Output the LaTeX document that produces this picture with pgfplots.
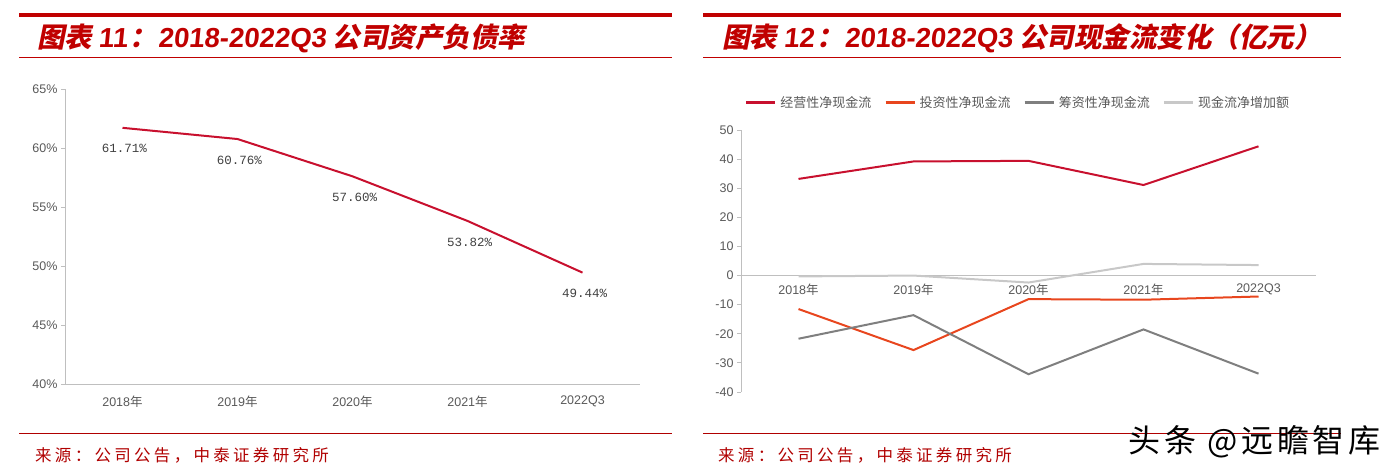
\documentclass[border=0pt]{standalone}
\usepackage{fontspec}
\usepackage{pgfplots}
\pgfplotsset{compat=1.18}
\setmainfont{Liberation Sans}
\newfontfamily\cjk{Noto Sans CJK SC}
\newfontfamily\titlefont{Noto Sans CJK SC}[FakeSlant=0.2]
\newfontfamily\latint{Liberation Sans}[FakeSlant=0.1]
\newfontfamily\monofont{Liberation Mono}
\definecolor{titlered}{HTML}{C00000}
\definecolor{srcred}{HTML}{B00000}
\definecolor{crimson}{HTML}{C8102E}
\definecolor{orangered}{HTML}{E8461E}
\definecolor{midgray}{HTML}{7F7F7F}
\definecolor{lightgray2}{HTML}{C8C8C8}
\definecolor{axisgray}{HTML}{BFBFBF}
\definecolor{labgray}{HTML}{595959}

\pgfplotstableread{
x y
0 61.71
1 60.76
2 57.60
3 53.82
4 49.44
}\debt

\pgfplotstableread{
x op inv fin net
0 33.2 -11.5 -21.7 -0.3
1 39.2 -25.6 -13.6 0.0
2 39.4 -8.1 -33.9 -2.4
3 31.1 -8.3 -18.5 4.0
4 44.4 -7.2 -33.7 3.6
}\cash

\pgfplotsset{
  common/.style={
    scale only axis,
    width=575pt,
    xmin=-0.5, xmax=4.5,
    axis y line=left,
    tick style={draw=axisgray, line width=0.8pt},
    tick align=outside,
    major tick length=4pt,
    xtick={0,1,2,3,4},
    xticklabels={{2018\cjk 年},{2019\cjk 年},{2020\cjk 年},{2021\cjk 年},{2022Q3}},
    major x tick style={draw=none},
    extra x ticks={-0.5,0.5,1.5,2.5,3.5,4.5},
    extra x tick labels={},
    extra x tick style={tick style={draw=axisgray, line width=0.8pt}, major tick length=5pt},
    tick label style={font=\fontsize{12.5}{13}\selectfont, text=labgray},
    /pgf/number format/assume math mode=true,
    clip=false,
  },
  nolines/.style={
    axis line style={draw=axisgray, line width=0.8pt, -},
    x axis line style={-}, y axis line style={-},
  },
}

\begin{document}
\begin{tikzpicture}[x=1pt,y=1pt]
\useasboundingbox (0,0) rectangle (1399,474);
% headers
\fill[titlered] (19,457.3) rectangle (672,461.3);
\fill[titlered] (703,457.3) rectangle (1341,461.3);
\draw[titlered, line width=1pt] (19,416) -- (672,416);
\draw[titlered, line width=1pt] (703,416) -- (1341,416);
\node[anchor=west, inner sep=0pt, text=titlered] at (37,436)
  {\fontsize{27.5}{28}\selectfont\titlefont\bfseries 图表 {\latint\bfseries 11}\kern2pt：\kern1pt{\latint\bfseries 2018-2022Q3} 公司资产负债率};
\node[anchor=west, inner sep=0pt, text=titlered] at (722,436)
  {\fontsize{27.5}{28}\selectfont\titlefont\bfseries 图表 {\latint\bfseries 12}\kern2pt：\kern1pt{\latint\bfseries 2018-2022Q3} 公司现金流变化（亿元）};
% footers
\draw[srcred, line width=0.9pt] (19,41) -- (672,41);
\draw[srcred, line width=0.9pt] (703,41) -- (1341,41);
\node[anchor=west, inner sep=0pt, text=srcred] at (35,19)
  {\fontsize{16.5}{17}\selectfont\cjk\addfontfeature{LetterSpace=20}来源：公司公告，中泰证券研究所};
\node[anchor=west, inner sep=0pt, text=srcred] at (718,19)
  {\fontsize{16.5}{17}\selectfont\cjk\addfontfeature{LetterSpace=20}来源：公司公告，中泰证券研究所};

% left chart
\begin{axis}[common,
  at={(65pt,90pt)}, anchor=south west,
  height=295pt,
  axis x line=bottom,
  nolines,
  ymin=40, ymax=65,
  ytick={40,45,50,55,60,65},
  yticklabel={\pgfmathprintnumber{\tick}\%},
  xticklabel style={yshift=-6pt},
  nodes near coords={\monofont\fontsize{12.5}{13}\selectfont\pgfmathprintnumber[fixed,fixed zerofill,precision=2,assume math mode=true]{\pgfplotspointmeta}\%},
  every node near coord/.style={anchor=center, xshift=2pt, yshift=-21pt, text=black!75, inner sep=0pt},
]
\addplot[crimson, line width=2pt, mark=none] table[x=x,y=y] {\debt};
\end{axis}

% right chart
\begin{axis}[common,
  at={(741pt,82pt)}, anchor=south west,
  height=262pt,
  axis x line=middle,
  nolines,
  ymin=-40, ymax=50,
  ytick={-40,-30,...,50},
  xticklabel style={yshift=-3pt},
  legend columns=4,
  legend style={at={(rel axis cs:0,1)}, anchor=south west, xshift=4pt, yshift=19pt,
    draw=none, fill=none, inner sep=0pt,
    font=\fontsize{13}{14}\selectfont\cjk, text=labgray,
    /tikz/every odd column/.append style={column sep=2pt}},
  legend image code/.code={\draw[#1, line width=2.2pt] (0pt,0pt) -- (29pt,0pt);},
]
\addplot[crimson, line width=2pt] table[x=x,y=op] {\cash};
\addlegendentry{经营性净现金流\rule{11pt}{0pt}}
\addplot[orangered, line width=2pt] table[x=x,y=inv] {\cash};
\addlegendentry{投资性净现金流\rule{11pt}{0pt}}
\addplot[midgray, line width=2pt] table[x=x,y=fin] {\cash};
\addlegendentry{筹资性净现金流\rule{11pt}{0pt}}
\addplot[lightgray2, line width=2pt] table[x=x,y=net] {\cash};
\addlegendentry{现金流净增加额}
\end{axis}

% watermark
\node[anchor=west, inner sep=0pt, text=black] at (1128,32)
  {\fontsize{32}{32}\selectfont\cjk\addfontfeature{LetterSpace=12}头条 @远瞻智库};
\end{tikzpicture}
\end{document}
